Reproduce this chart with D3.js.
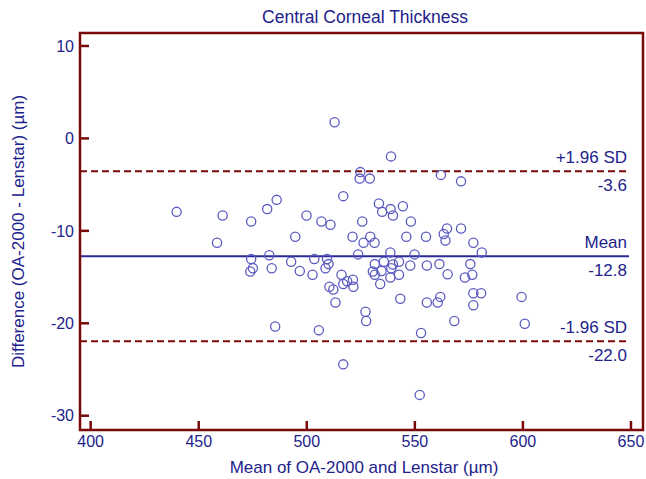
<!DOCTYPE html>
<html>
<head>
<meta charset="utf-8">
<script src="https://cdn.jsdelivr.net/npm/d3@7/dist/d3.min.js"></script>
<style>
  html, body { margin: 0; padding: 0; background: #ffffff; }
  svg { display: block; font-family: "Liberation Sans", Arial, sans-serif; }
</style>
</head>
<body>
<svg id="chart" width="646" height="479"></svg>
<script>
const title = "Central Corneal Thickness";
const xLabel = "Mean of OA-2000 and Lenstar (µm)";
const yLabel = "Difference (OA-2000 - Lenstar) (µm)";

const meanValues = [
  513.1, 440.0, 461.3, 486.3, 481.9, 474.5, 458.7, 500.1, 507.0, 511.2,
  494.9, 517.1, 521.4, 539.2, 525.0, 524.7, 529.4, 562.3, 571.6, 533.6,
  535.1, 539.0, 540.1, 544.7, 525.9, 548.4, 529.6, 526.5, 531.6, 546.3,
  555.4, 565.1, 563.6, 564.4, 571.6, 577.3, 581.2, 524.0, 538.9, 550.1,
  474.5, 482.9, 475.3, 474.1, 484.0, 493.0, 497.0, 502.9, 503.7, 509.6,
  510.3, 508.9, 516.3, 518.9, 517.1, 521.6, 521.8, 510.7, 512.5, 513.5,
  485.6, 505.8, 517.1, 531.7, 535.9, 540.1, 542.9, 530.8, 531.7, 534.8,
  539.3, 538.9, 542.9, 534.2, 548.1, 555.8, 561.6, 565.4, 575.9, 576.8,
  573.4, 543.5, 555.8, 560.8, 562.0, 577.3, 580.9, 577.3, 599.6, 527.4,
  527.7, 568.5, 601.1, 553.1, 552.5
];
const diffValues = [
  1.7, -8.0, -8.4, -6.7, -7.7, -9.05, -11.35, -8.4, -9.05, -9.4,
  -10.7, -6.3, -10.7, -2.0, -3.7, -4.4, -4.4, -4.0, -4.7, -7.1,
  -8.0, -7.7, -8.4, -7.4, -9.05, -9.05, -10.7, -11.35, -11.35, -10.7,
  -10.7, -9.8, -10.4, -11.1, -9.8, -11.35, -12.4, -12.6, -12.4, -12.6,
  -13.1, -12.7, -14.1, -14.45, -14.1, -13.4, -14.4, -14.8, -13.1, -13.1,
  -13.65, -14.1, -14.8, -15.5, -15.8, -15.35, -16.1, -16.1, -16.4, -17.8,
  -20.4, -20.8, -24.5, -13.65, -13.4, -13.7, -13.4, -14.45, -14.8, -14.4,
  -14.1, -15.1, -14.8, -15.8, -13.8, -13.8, -13.65, -14.75, -13.65, -14.8,
  -15.1, -17.4, -17.8, -17.8, -17.2, -16.8, -16.8, -18.1, -17.2, -18.8,
  -19.8, -19.8, -20.1, -21.1, -27.8
];

const xTicks = [400, 450, 500, 550, 600, 650];
const yTicks = [10, 0, -10, -20, -30];

const refValues = [-3.6, -12.8, -22.0];
const refNames = ["+1.96 SD", "Mean", "-1.96 SD"];
const refKinds = ["sd", "mean", "sd"];

const L = 80, R = 643, T = 33, B = 430;
const frameColor = "#7a0a0a";
const textColor = "#22228c";
const pointColor = "#5a5ac0";
const meanColor = "#2a2a98";

const x = d3.scaleLinear().domain([395.3, 655.8]).range([L, R]);
const y = d3.scaleLinear().domain([-31.6, 11.35]).range([B, T]);

const svg = d3.select("#chart");

// title
svg.append("text")
  .attr("x", 365).attr("y", 23)
  .attr("text-anchor", "middle")
  .attr("font-size", "17.5px").attr("fill", textColor)
  .text(title);

// reference lines
const g = svg.append("g");
refValues.forEach((v, i) => {
  const yy = y(v);
  g.append("line")
    .attr("x1", L).attr("x2", R - 14)
    .attr("y1", yy).attr("y2", yy)
    .attr("stroke", refKinds[i] === "mean" ? meanColor : frameColor)
    .attr("stroke-width", 2)
    .attr("stroke-dasharray", refKinds[i] === "mean" ? null : "7,4");
  g.append("text")
    .attr("x", 627).attr("y", yy - 8)
    .attr("text-anchor", "end")
    .attr("font-size", "17px").attr("fill", textColor)
    .text(refNames[i]);
  g.append("text")
    .attr("x", 627).attr("y", yy + 20)
    .attr("text-anchor", "end")
    .attr("font-size", "17px").attr("fill", textColor)
    .text(v.toFixed(1));
});

// points
svg.append("g").selectAll("circle")
  .data(meanValues.map((m, i) => [m, diffValues[i]]))
  .join("circle")
  .attr("cx", d => x(d[0]))
  .attr("cy", d => y(d[1]))
  .attr("r", 4.6)
  .attr("fill", "none")
  .attr("stroke", pointColor)
  .attr("stroke-width", 1.3);

// axes (ticks inside)
const fmt = d => String(d);
const xAxis = d3.axisBottom(x).tickValues(xTicks).tickFormat(fmt)
  .tickSizeInner(-9).tickSizeOuter(0).tickPadding(6);
const gx = svg.append("g").attr("transform", `translate(0,${B})`).call(xAxis);
const yAxis = d3.axisLeft(y).tickValues(yTicks).tickFormat(fmt)
  .tickSizeInner(-9).tickSizeOuter(0).tickPadding(6);
const gy = svg.append("g").attr("transform", `translate(${L},0)`).call(yAxis);
[gx, gy].forEach(a => {
  a.select(".domain").remove();
  a.selectAll(".tick line").attr("stroke", frameColor).attr("stroke-width", 2.5);
  a.selectAll(".tick text").attr("fill", textColor).attr("font-size", "16px")
    .attr("font-family", "Liberation Sans, Arial, sans-serif");
});
gy.selectAll(".tick text").attr("dy", "0.36em");

// frame
svg.append("rect")
  .attr("x", L).attr("y", T).attr("width", R - L).attr("height", B - T)
  .attr("fill", "none").attr("stroke", frameColor).attr("stroke-width", 2.5);

// axis labels
svg.append("text")
  .attr("x", 364).attr("y", 473)
  .attr("text-anchor", "middle")
  .attr("font-size", "17px").attr("fill", textColor)
  .text(xLabel);
svg.append("text")
  .attr("transform", `translate(24,${(T + B) / 2}) rotate(-90)`)
  .attr("text-anchor", "middle")
  .attr("font-size", "17px").attr("fill", textColor)
  .text(yLabel);
</script>
</body>
</html>
